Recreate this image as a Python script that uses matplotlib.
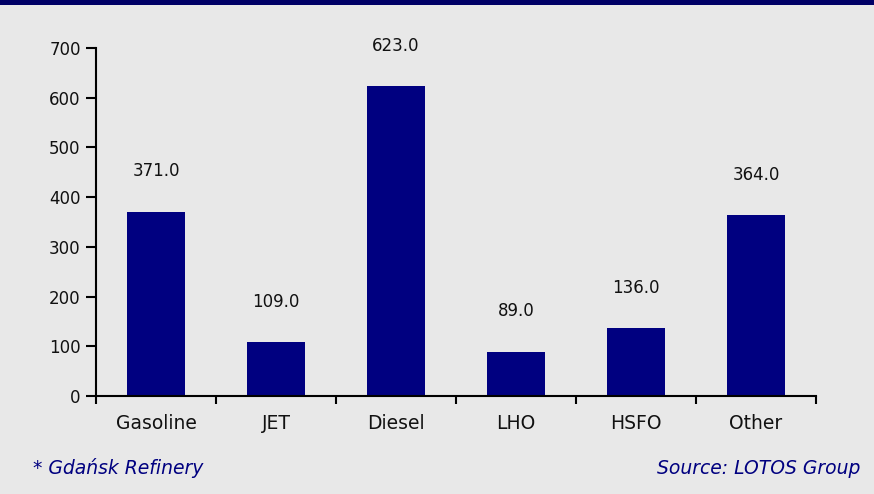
import matplotlib
matplotlib.use('Agg')
import matplotlib.pyplot as plt
import numpy as np

products = ["Gasoline", "JET", "Diesel", "LHO", "HSFO", "Other"]
volumes = [371.0, 109.0, 623.0, 89.0, 136.0, 364.0]
y_ticks = [0, 100, 200, 300, 400, 500, 600, 700]

navy = "#000080"
panel = "#E8E8E8"

plt.rcParams['font.family'] = 'DejaVu Sans'

fig = plt.figure(figsize=(8.74, 4.94), dpi=100)
fig.patch.set_facecolor(panel)

# dark band along the top edge
fig.add_artist(plt.Rectangle((0, 0.99), 1, 0.01, transform=fig.transFigure,
                             color="#000066", lw=0))

ax = fig.add_axes([96 / 874, 1 - 396 / 494, 720 / 874, 348 / 494])
ax.set_facecolor(panel)

x = np.arange(len(products))
ax.bar(x, volumes, width=0.49, color=navy, zorder=2)
for xi, v in zip(x, volumes):
    ax.annotate("%.1f" % v, (xi, v), xytext=(0, 29), textcoords="offset points",
                ha="center", va="center", fontsize=12, color="#111111")

ax.set_xlim(-0.5, len(products) - 0.5)
ax.set_ylim(0, 700)
ax.set_yticks(y_ticks)
ax.set_xticks(x)
ax.set_xticklabels(products, fontsize=13.5, color="#111111")
ax.set_xticks(np.arange(-0.5, len(products)), minor=True)
ax.tick_params(axis="x", which="major", length=0, pad=13)
ax.tick_params(axis="x", which="minor", length=6, width=1.5, direction="out")
ax.tick_params(axis="y", length=7, width=1.5, direction="out", labelsize=12,
               labelcolor="#111111", pad=4)

for side in ["top", "right"]:
    ax.spines[side].set_visible(False)
for side in ["left", "bottom"]:
    ax.spines[side].set_linewidth(1.5)

fig.text(33 / 874, 1 - 468 / 494, "* Gdańsk Refinery", style="italic",
         color=navy, fontsize=13.5, va="center", ha="left")
fig.text(860 / 874, 1 - 468 / 494, "Source: LOTOS Group", style="italic",
         color=navy, fontsize=13.5, va="center", ha="right")

fig.savefig("out.png", dpi=100, facecolor=panel)
